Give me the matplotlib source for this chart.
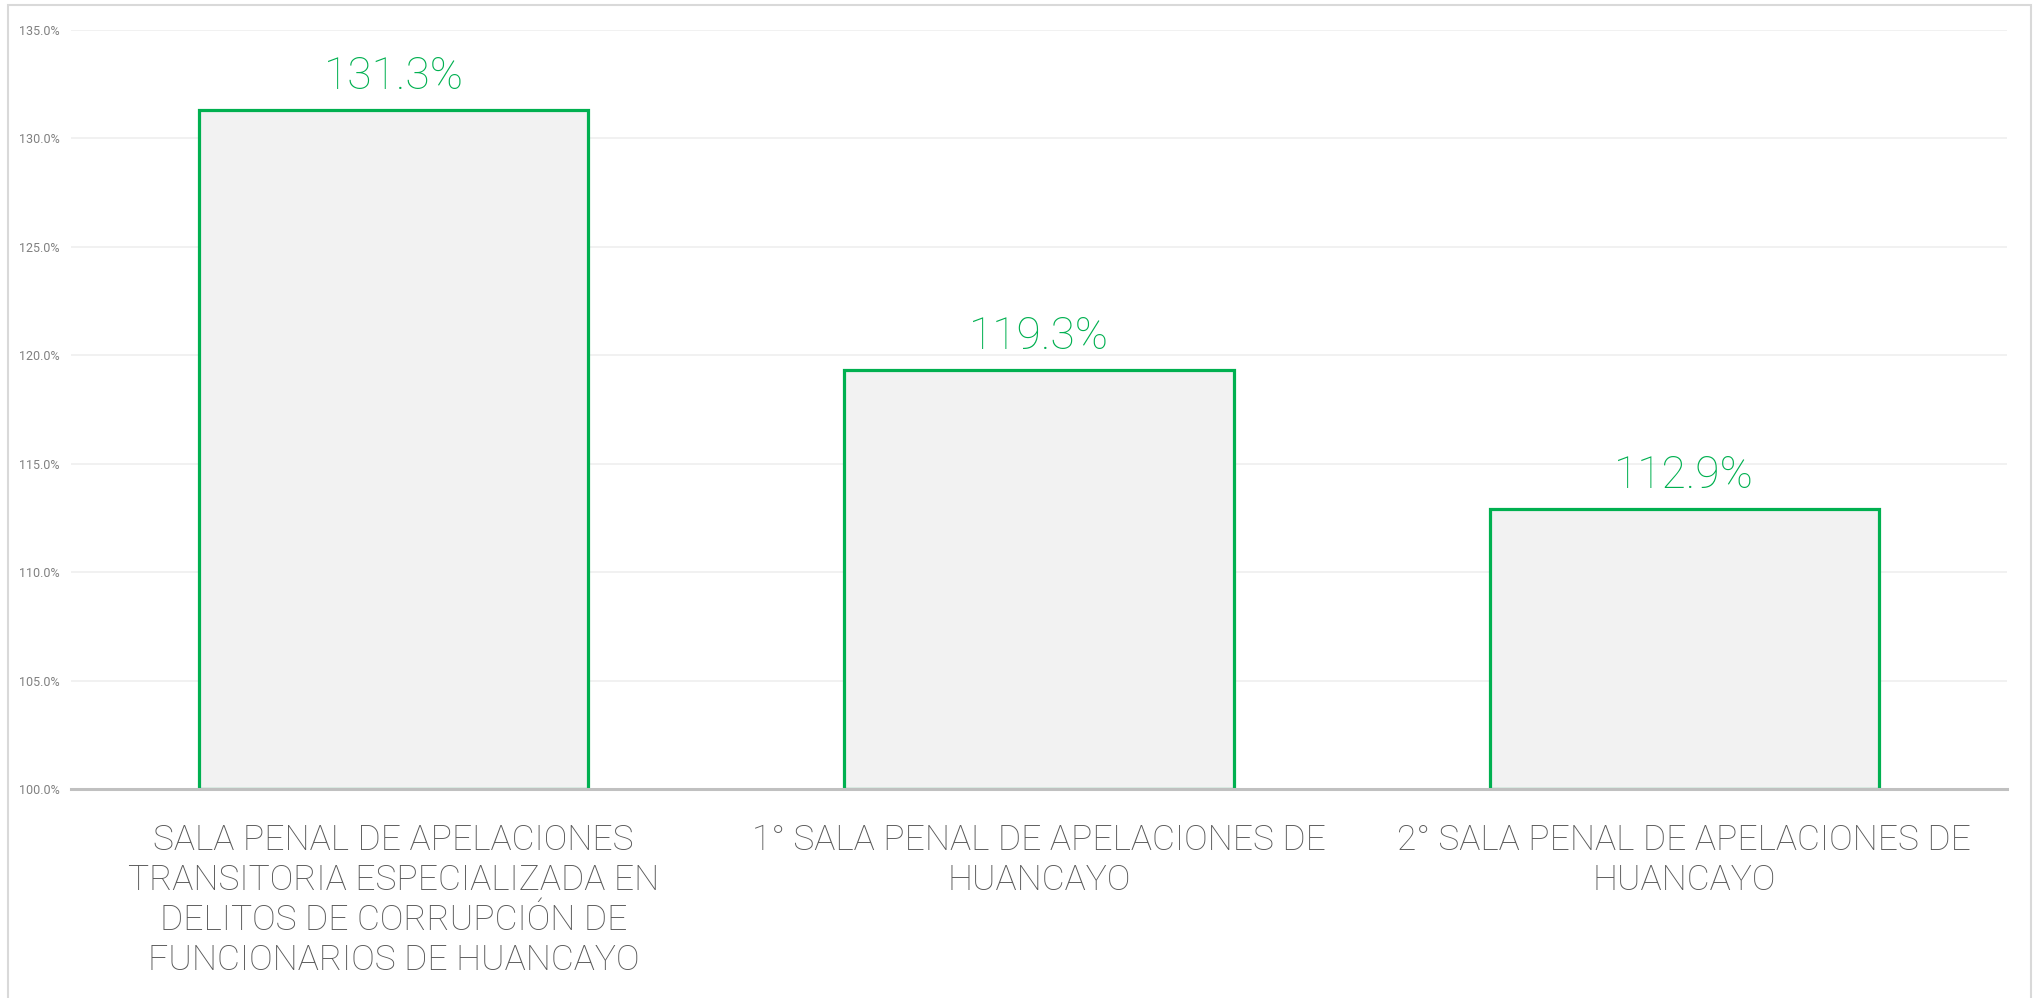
import matplotlib
matplotlib.use("Agg")
import matplotlib.pyplot as plt
from matplotlib.patches import Rectangle
from matplotlib.ticker import FuncFormatter, MultipleLocator

categories = [
    "SALA PENAL DE APELACIONES\nTRANSITORIA ESPECIALIZADA EN\nDELITOS DE CORRUPCIÓN DE\nFUNCIONARIOS DE HUANCAYO",
    "1° SALA PENAL DE APELACIONES DE\nHUANCAYO",
    "2° SALA PENAL DE APELACIONES DE\nHUANCAYO",
]
values = [131.3, 119.3, 112.9]
value_labels = ["131.3%", "119.3%", "112.9%"]

GREEN = "#00B050"
FONT = "Roboto"
fig = plt.figure(figsize=(20.36, 9.98), dpi=100)
fig.patch.set_facecolor("white")
fig.add_artist(Rectangle((8 / 2036, -0.1), (2031 - 8) / 2036, 1.1 - 5 / 998,
                         transform=fig.transFigure, fill=False,
                         edgecolor="#d9d9d9", linewidth=1.5))

ax = fig.add_axes([71 / 2036, 1 - 789 / 998, (2007 - 71) / 2036, (789 - 30) / 998])
x = range(len(categories))
bars = ax.bar(x, [v - 100 for v in values], bottom=100, width=0.603,
              color="#f2f2f2", edgecolor=GREEN, linewidth=2.3, zorder=3)
ax.set_xlim(-0.5, len(categories) - 0.5)
ax.set_ylim(100, 135)
ax.yaxis.set_major_locator(MultipleLocator(5))
ax.yaxis.set_major_formatter(FuncFormatter(lambda v, p: f"{v:.1f}%"))
ax.grid(axis="y", color="#efefef", linewidth=1.2, zorder=0)
ax.set_axisbelow(True)
for s in ["top", "right", "left"]:
    ax.spines[s].set_visible(False)
ax.spines["bottom"].set_color("#c0c0c0")
ax.spines["bottom"].set_linewidth(2.2)
ax.spines["bottom"].set_zorder(4)
ax.tick_params(axis="y", length=0, labelsize=9, labelcolor="#808080", pad=8)
for t in ax.get_yticklabels():
    t.set_fontfamily(FONT)
ax.tick_params(axis="x", length=0, pad=25)
ax.set_xticks(list(x))
ax.set_xticklabels(categories, fontsize=25.5, color="#595959", fontfamily=FONT,
                   fontweight="light", linespacing=1.24)
for b, lab in zip(bars, value_labels):
    ax.annotate(lab, (b.get_x() + b.get_width() / 2, b.get_y() + b.get_height()),
                xytext=(0, 9), textcoords="offset points", ha="center", va="bottom",
                fontsize=32, color=GREEN, fontfamily=FONT, fontweight="light")

fig.savefig("out.png", dpi=100, facecolor="white")
